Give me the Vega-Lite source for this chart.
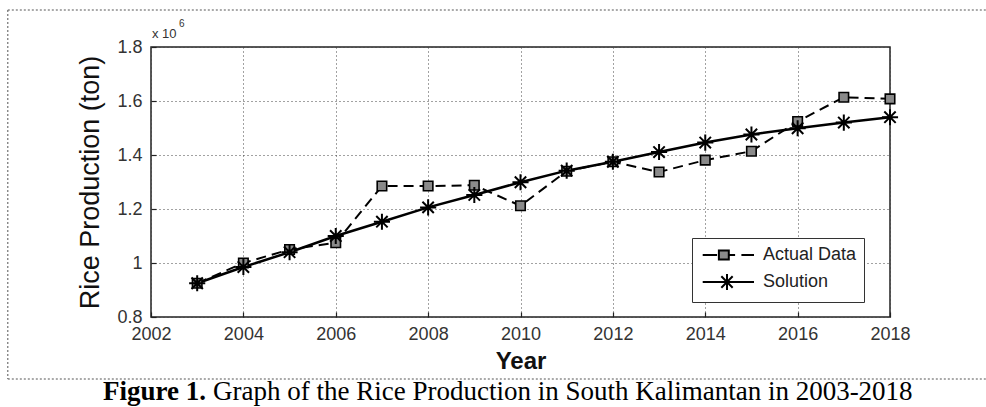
{
  "$schema": "https://vega.github.io/schema/vega-lite/v6.json",
  "width": 739,
  "height": 270,
  "autosize": {"type": "none"},
  "padding": {"left": 151, "top": 47, "right": 96, "bottom": 90},
  "background": "white",
  "config": {
    "view": {"stroke": "#222", "strokeWidth": 1.5},
    "axis": {
      "labelFont": "Liberation Sans",
      "labelFontSize": 18,
      "labelColor": "#333",
      "titleFont": "Liberation Sans",
      "titleColor": "#111",
      "grid": true,
      "gridDash": [1, 3],
      "gridColor": "#444",
      "gridOpacity": 1,
      "gridWidth": 1,
      "domain": false,
      "ticks": true,
      "tickColor": "#222",
      "tickSize": -5,
      "tickWidth": 1.2
    }
  },
  "data": {
    "values": [
      {"year": 2003, "series": "Actual Data", "value": 925000},
      {"year": 2004, "series": "Actual Data", "value": 1000000},
      {"year": 2005, "series": "Actual Data", "value": 1050000},
      {"year": 2006, "series": "Actual Data", "value": 1075000},
      {"year": 2007, "series": "Actual Data", "value": 1285000},
      {"year": 2008, "series": "Actual Data", "value": 1285000},
      {"year": 2009, "series": "Actual Data", "value": 1288000},
      {"year": 2010, "series": "Actual Data", "value": 1212000},
      {"year": 2011, "series": "Actual Data", "value": 1340000},
      {"year": 2012, "series": "Actual Data", "value": 1375000},
      {"year": 2013, "series": "Actual Data", "value": 1337000},
      {"year": 2014, "series": "Actual Data", "value": 1381000},
      {"year": 2015, "series": "Actual Data", "value": 1414000},
      {"year": 2016, "series": "Actual Data", "value": 1524000},
      {"year": 2017, "series": "Actual Data", "value": 1614000},
      {"year": 2018, "series": "Actual Data", "value": 1608000},
      {"year": 2003, "series": "Solution", "value": 925000},
      {"year": 2004, "series": "Solution", "value": 985000},
      {"year": 2005, "series": "Solution", "value": 1040000},
      {"year": 2006, "series": "Solution", "value": 1100000},
      {"year": 2007, "series": "Solution", "value": 1153000},
      {"year": 2008, "series": "Solution", "value": 1206000},
      {"year": 2009, "series": "Solution", "value": 1252000},
      {"year": 2010, "series": "Solution", "value": 1299000},
      {"year": 2011, "series": "Solution", "value": 1342000},
      {"year": 2012, "series": "Solution", "value": 1375000},
      {"year": 2013, "series": "Solution", "value": 1411000},
      {"year": 2014, "series": "Solution", "value": 1446000},
      {"year": 2015, "series": "Solution", "value": 1476000},
      {"year": 2016, "series": "Solution", "value": 1499000},
      {"year": 2017, "series": "Solution", "value": 1520000},
      {"year": 2018, "series": "Solution", "value": 1540000}
    ]
  },
  "encoding": {
    "x": {
      "field": "year",
      "type": "quantitative",
      "scale": {"domain": [2002, 2018], "nice": false, "zero": false},
      "axis": {
        "values": [2002, 2004, 2006, 2008, 2010, 2012, 2014, 2016, 2018],
        "format": "d",
        "labelPadding": 13,
        "labelFlush": false,
        "title": "Year",
        "titleFontSize": 24,
        "titleFontWeight": "bold",
        "titlePadding": 6
      }
    },
    "y": {
      "field": "value",
      "type": "quantitative",
      "scale": {"domain": [800000, 1800000], "nice": false, "zero": false},
      "axis": {
        "values": [800000, 1000000, 1200000, 1400000, 1600000, 1800000],
        "labelExpr": "format(datum.value / 1000000, '.1~f')",
        "labelPadding": 14,
        "labelFlush": false,
        "title": "Rice Production (ton)",
        "titleFontSize": 27,
        "titleFontWeight": "normal",
        "titlePadding": 12
      }
    }
  },
  "layer": [
    {
      "transform": [{"filter": "datum.series == 'Actual Data'"}],
      "mark": {"type": "line", "color": "black", "strokeWidth": 2, "strokeDash": [10, 6]}
    },
    {
      "transform": [{"filter": "datum.series == 'Solution'"}],
      "mark": {"type": "line", "color": "black", "strokeWidth": 2.5}
    },
    {
      "transform": [{"filter": "datum.series == 'Actual Data'"}],
      "mark": {"type": "point", "shape": "square", "filled": true, "fill": "#8a8a8a", "stroke": "black", "strokeWidth": 1.6, "size": 90, "opacity": 1}
    },
    {
      "transform": [{"filter": "datum.series == 'Solution'"}],
      "mark": {"type": "point", "shape": "M-1.7,0L1.7,0M0,-1.7L0,1.7M-1.2,-1.2L1.2,1.2M-1.2,1.2L1.2,-1.2", "filled": false, "stroke": "black", "strokeWidth": 2, "size": 90, "opacity": 1}
    },
    {
      "transform": [{"filter": "false"}],
      "mark": {"type": "point", "strokeWidth": 2, "opacity": 1},
      "encoding": {
        "stroke": {
          "field": "series",
          "type": "nominal",
          "scale": {"domain": ["Actual Data", "Solution"], "range": ["black", "black"]},
          "legend": {
            "title": null,
            "orient": "none",
            "legendX": 541,
            "legendY": 191
          }
        },
        "fill": {
          "field": "series",
          "type": "nominal",
          "scale": {"domain": ["Actual Data", "Solution"], "range": ["#8a8a8a", "#8a8a8a"]},
          "legend": {
            "title": null,
            "orient": "none",
            "legendX": 541,
            "legendY": 191
          }
        },
        "shape": {
          "field": "series",
          "type": "nominal",
          "scale": {
            "domain": ["Actual Data", "Solution"],
            "range": [
              "M-0.7,0L0.9,0M1.1,-0.5L2.2,-0.5L2.2,0.5L1.1,0.5ZM2.2,0L2.9,0M3.6,0L5,0",
              "M-0.7,0L5,0M1.1,0L2.9,0M2,-0.9L2,0.9M1.37,-0.63L2.63,0.63M1.37,0.63L2.63,-0.63"
            ]
          },
          "legend": {
            "title": null,
            "orient": "none",
            "legendX": 541,
            "legendY": 191,
            "direction": "vertical",
            "strokeColor": "#333",
            "fillColor": "white",
            "padding": 7,
            "labelFont": "Liberation Sans",
            "labelFontSize": 18,
            "labelColor": "#222",
            "labelOffset": 44,
            "rowPadding": 5,
            "symbolSize": 324,
            "symbolStrokeWidth": 2,
            "symbolOpacity": 1
          }
        }
      }
    },
    {
      "transform": [{"filter": "datum.year == 2003 && datum.series == 'Solution'"}, {"calculate": "'x 10'", "as": "label"}],
      "mark": {"type": "text", "align": "left", "baseline": "alphabetic", "dx": 1, "dy": -9, "font": "Liberation Sans", "fontSize": 13, "color": "#333"},
      "encoding": {
        "x": {"datum": 2002},
        "y": {"datum": 1800000},
        "text": {"field": "label", "type": "nominal"}
      }
    },
    {
      "transform": [{"filter": "datum.year == 2003 && datum.series == 'Solution'"}, {"calculate": "'6'", "as": "label"}],
      "mark": {"type": "text", "align": "left", "baseline": "alphabetic", "dx": 28, "dy": -20, "font": "Liberation Sans", "fontSize": 10, "color": "#333"},
      "encoding": {
        "x": {"datum": 2002},
        "y": {"datum": 1800000},
        "text": {"field": "label", "type": "nominal"}
      }
    },
    {
      "transform": [{"filter": "datum.year == 2003 && datum.series == 'Solution'"}, {"calculate": "'Figure 1.'", "as": "label"}],
      "mark": {"type": "text", "align": "left", "baseline": "alphabetic", "font": "Liberation Serif", "fontSize": 27, "fontWeight": "bold", "color": "black"},
      "encoding": {
        "x": {"datum": 2000.961},
        "y": {"datum": 492593},
        "text": {"field": "label", "type": "nominal"}
      }
    },
    {
      "transform": [{"filter": "datum.year == 2003 && datum.series == 'Solution'"}, {"calculate": "'Graph of the Rice Production in South Kalimantan in 2003-2018'", "as": "label"}],
      "mark": {"type": "text", "align": "left", "baseline": "alphabetic", "font": "Liberation Serif", "fontSize": 27, "fontWeight": "normal", "color": "black"},
      "encoding": {
        "x": {"datum": 2003.342},
        "y": {"datum": 492593},
        "text": {"field": "label", "type": "nominal"}
      }
    },
    {
      "transform": [{"filter": "datum.year == 2003 && datum.series == 'Solution'"}],
      "mark": {"type": "rule", "color": "#555", "strokeWidth": 1, "strokeDash": [2, 2], "clip": false},
      "encoding": {
        "x": {"datum": 1998.9},
        "x2": {"datum": 2020.1},
        "y": {"datum": 1937037}
      }
    },
    {
      "transform": [{"filter": "datum.year == 2003 && datum.series == 'Solution'"}],
      "mark": {"type": "rule", "color": "#555", "strokeWidth": 1, "strokeDash": [2, 2], "clip": false},
      "encoding": {
        "x": {"datum": 1998.9},
        "x2": {"datum": 2020.1},
        "y": {"datum": 570370}
      }
    },
    {
      "transform": [{"filter": "datum.year == 2003 && datum.series == 'Solution'"}],
      "mark": {"type": "rule", "color": "#555", "strokeWidth": 1, "strokeDash": [2, 2], "clip": false},
      "encoding": {
        "x": {"datum": 1998.9},
        "y": {"datum": 1937037},
        "y2": {"datum": 570370}
      }
    }
  ]
}
